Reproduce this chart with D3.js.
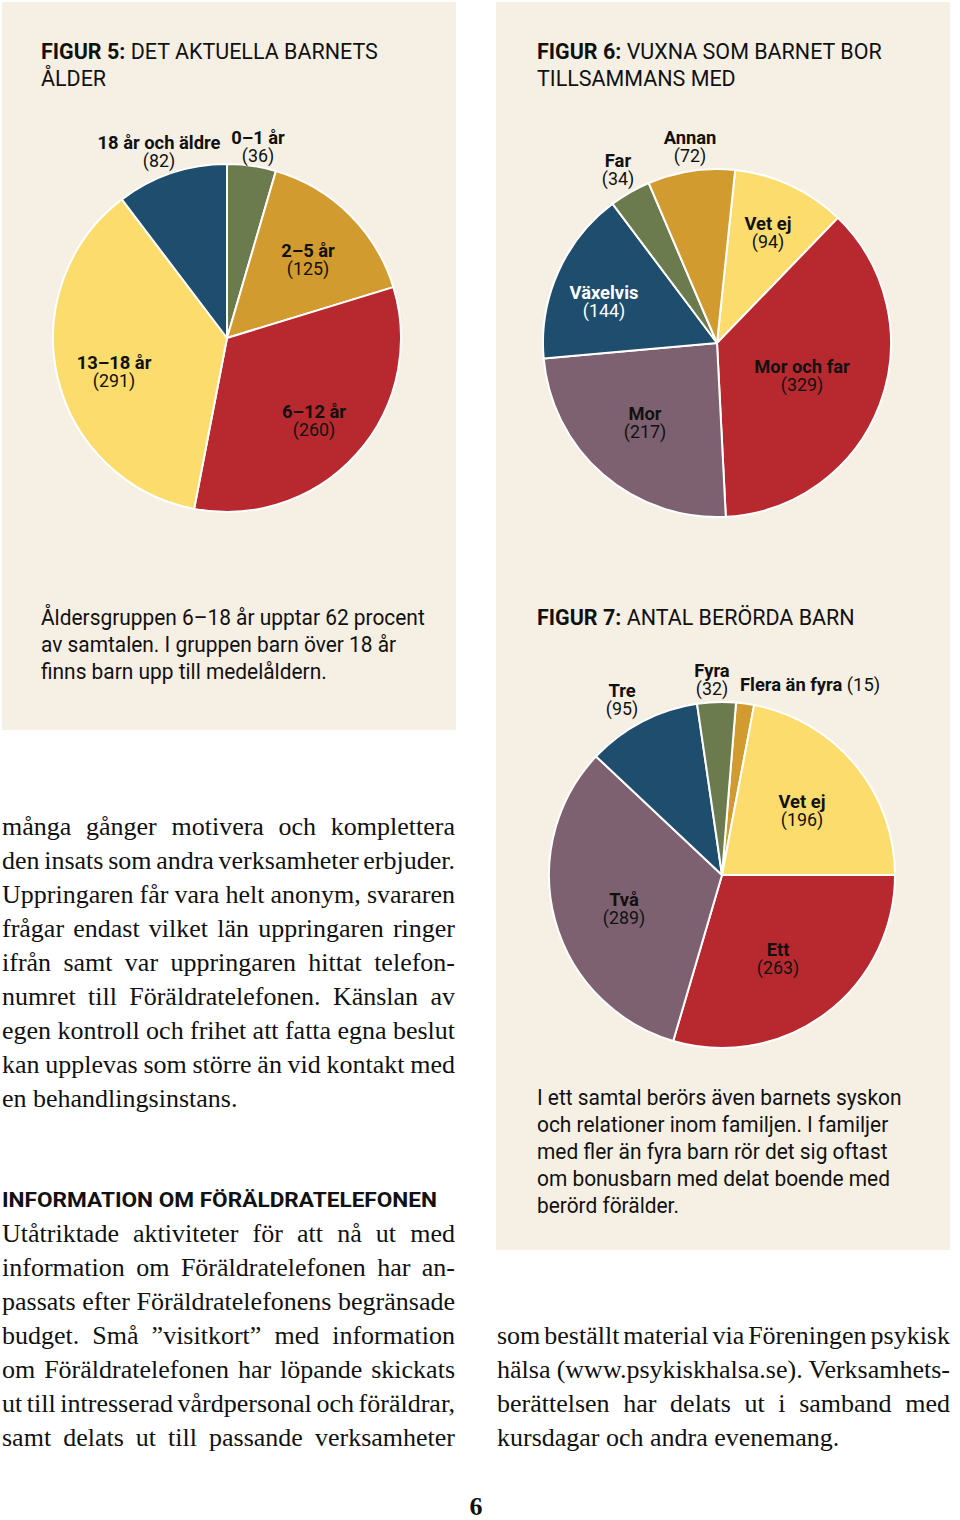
<!DOCTYPE html>
<html><head><meta charset="utf-8">
<script src="https://cdn.jsdelivr.net/npm/d3@7"></script>
<style>body{margin:0;background:#fff} svg{display:block}</style>
</head><body><svg id="c" width="960" height="1520"></svg>
<script>
// ---- data ----
const ageCats = ["0–1 år", "2–5 år", "6–12 år", "13–18 år", "18 år och äldre"];
const ageVals = [36, 125, 260, 291, 82];
const adultCats = ["Vet ej", "Mor och far", "Mor", "Växelvis", "Far", "Annan"];
const adultVals = [94, 329, 217, 144, 34, 72];
const childCats = ["Flera än fyra", "Vet ej", "Ett", "Två", "Tre", "Fyra"];
const childVals = [15, 196, 263, 289, 95, 32];

// ---- styling ----
const COL = {green:"#6b7b4e", gold:"#d29b2f", red:"#b8292f", yellow:"#fcdc6c", blue:"#1e4d6d", mauve:"#7d6170"};
const SANS = "Roboto,'Liberation Sans',sans-serif";
const SERIF = "'Liberation Serif','DejaVu Serif',serif";
const PANEL = "#f6efe4";

const svg = d3.select("#c");
svg.append("rect").attr("width",960).attr("height",1520).attr("fill","#fff");
svg.append("rect").attr("x",2).attr("y",2).attr("width",454).attr("height",728).attr("fill",PANEL);
svg.append("rect").attr("x",496).attr("y",2).attr("width",454).attr("height",1248).attr("fill",PANEL);

// horizontal condensation factors for the sans face, measured on sample strings
function factor(size, parts, target) {
  const probe = svg.append("text").attr("font-family",SANS).attr("font-size",size).attr("fill","none");
  parts.forEach(([txt,b])=>probe.append("tspan").attr("font-weight",b?"bold":"normal").text(txt));
  const k = target / probe.node().getComputedTextLength();
  probe.remove();
  return k;
}
const K_TITLE = factor(22, [["FIGUR 5:",1],[" DET AKTUELLA BARNETS",0]], 337);
const K_CAP = factor(22.5, [["Åldersgruppen 6–18 år upptar 62 procent",0]], 384);
const K_LAB = factor(18, [["18 år och äldre",1]], 123);

function sans(parent, x, y, size, k) {
  return parent.append("text").attr("x",x).attr("y",y)
    .attr("transform",`translate(${x},0) scale(${k},1) translate(${-x},0)`)
    .attr("font-family",SANS).attr("font-size",size).attr("fill","#111");
}

function title(x, y, bold, rest) {
  const t = sans(svg, x, y, 22, K_TITLE);
  t.append("tspan").attr("font-weight","bold").text(bold);
  t.append("tspan").text(rest);
}
title(41, 59, "FIGUR 5:", " DET AKTUELLA BARNETS");
sans(svg, 41, 86, 22, K_TITLE).text("ÅLDER");
title(537, 59, "FIGUR 6:", " VUXNA SOM BARNET BOR");
sans(svg, 537, 86, 22, K_TITLE).text("TILLSAMMANS MED");
title(537, 625, "FIGUR 7:", " ANTAL BERÖRDA BARN");

function pie(cfg) {
  const g = svg.append("g").attr("transform", `translate(${cfg.cx},${cfg.cy})`);
  const data = cfg.cats.map((c,i)=>({cat:c, val:cfg.vals[i]}));
  const start = cfg.start * Math.PI/180;
  const arcs = d3.pie().sort(null).value(d=>d.val).startAngle(start).endAngle(start+2*Math.PI)(data);
  const arc = d3.arc().innerRadius(0).outerRadius(cfg.r);
  g.selectAll("path").data(arcs).join("path")
    .attr("d", arc).attr("fill", d=>cfg.colors[d.index])
    .attr("stroke","#fff").attr("stroke-width",2).attr("stroke-linejoin","round");
  arcs.forEach(a=>{
    const [dx,dy,mode] = cfg.labels[a.index];
    const fill = (mode==="w") ? "#fff" : "#111";
    if (mode==="inline") {
      const t = sans(g, dx, dy+6, 18, K_LAB).attr("fill",fill);
      t.append("tspan").attr("font-weight","bold").text(a.data.cat);
      t.append("tspan").text(" (" + a.data.val + ")");
    } else {
      sans(g, dx, dy-3, 18, K_LAB).attr("text-anchor","middle").attr("font-weight","bold").attr("fill",fill).text(a.data.cat);
      sans(g, dx, dy+15, 17.5, K_LAB).attr("text-anchor","middle").attr("fill",fill).text("(" + a.data.val + ")");
    }
  });
}

pie({cx:227, cy:338, r:174, start:0, cats:ageCats, vals:ageVals,
  colors:[COL.green, COL.gold, COL.red, COL.yellow, COL.blue],
  labels:[[31,-191],[81,-78],[87,83],[-113,34],[-68,-186]]});
pie({cx:717, cy:343, r:174, start:6.0, cats:adultCats, vals:adultVals,
  colors:[COL.yellow, COL.red, COL.mauve, COL.blue, COL.green, COL.gold],
  labels:[[51,-110],[85,33],[-72,80],[-113,-41,"w"],[-99,-173],[-27,-196]]});
pie({cx:722, cy:875, r:173, start:4.65, cats:childCats, vals:childVals,
  colors:[COL.gold, COL.yellow, COL.red, COL.mauve, COL.blue, COL.green],
  labels:[[18,-190,"inline"],[80,-64],[56,84],[-98,34],[-100,-175],[-10,-195]]});

// ---- captions in panels ----
function lines(arr, x, y0, lh, size) {
  arr.forEach((s,i)=>sans(svg, x, y0+i*lh, size, K_CAP).text(s));
}
lines(["Åldersgruppen 6–18 år upptar 62 procent","av samtalen. I gruppen barn över 18 år","finns barn upp till medelåldern."], 41, 625, 27, 22.5);
lines(["I ett samtal berörs även barnets syskon","och relationer inom familjen. I familjer","med fler än fyra barn rör det sig oftast","om bonusbarn med delat boende med","berörd förälder."], 537, 1105, 27, 22.5);

// ---- justified serif body ----
function justified(arr, x, y0, lh, w, lastJust) {
  arr.forEach((s,i)=>{
    const t = svg.append("text").attr("x",x).attr("y",y0+i*lh)
      .attr("font-family",SERIF).attr("font-size",26).attr("fill","#111").text(s);
    const isLast = i===arr.length-1;
    if (!isLast || lastJust) {
      const nat = t.node().getComputedTextLength();
      const sp = (s.match(/ /g)||[]).length;
      if (sp>0) t.attr("word-spacing", (w-nat)/sp);
    }
  });
}
justified(["många gånger motivera och komplettera","den insats som andra verksamheter erbjuder.","Uppringaren får vara helt anonym, svararen","frågar endast vilket län uppringaren ringer","ifrån samt var uppringaren hittat telefon-","numret till Föräldratelefonen. Känslan av","egen kontroll och frihet att fatta egna beslut","kan upplevas som större än vid kontakt med","en behandlingsinstans."], 2, 835, 34, 453, false);

svg.append("text").attr("x",2).attr("y",1207).attr("font-family",SANS).attr("font-size",21).attr("font-weight","bold")
  .attr("fill","#111").attr("textLength",435).attr("lengthAdjust","spacingAndGlyphs").text("INFORMATION OM FÖRÄLDRATELEFONEN");

justified(["Utåtriktade aktiviteter för att nå ut med","information om Föräldratelefonen har an-","passats efter Föräldratelefonens begränsade","budget. Små ”visitkort” med information","om Föräldratelefonen har löpande skickats","ut till intresserad vårdpersonal och föräldrar,","samt delats ut till passande verksamheter"], 2, 1242, 34, 453, true);

justified(["som beställt material via Föreningen psykisk","hälsa (www.psykiskhalsa.se). Verksamhets-","berättelsen har delats ut i samband med","kursdagar och andra evenemang."], 497, 1344, 34, 453, false);

svg.append("text").attr("x",476).attr("y",1515).attr("text-anchor","middle").attr("font-family",SERIF)
  .attr("font-size",26).attr("font-weight","bold").attr("fill","#111").text("6");
</script></body></html>
